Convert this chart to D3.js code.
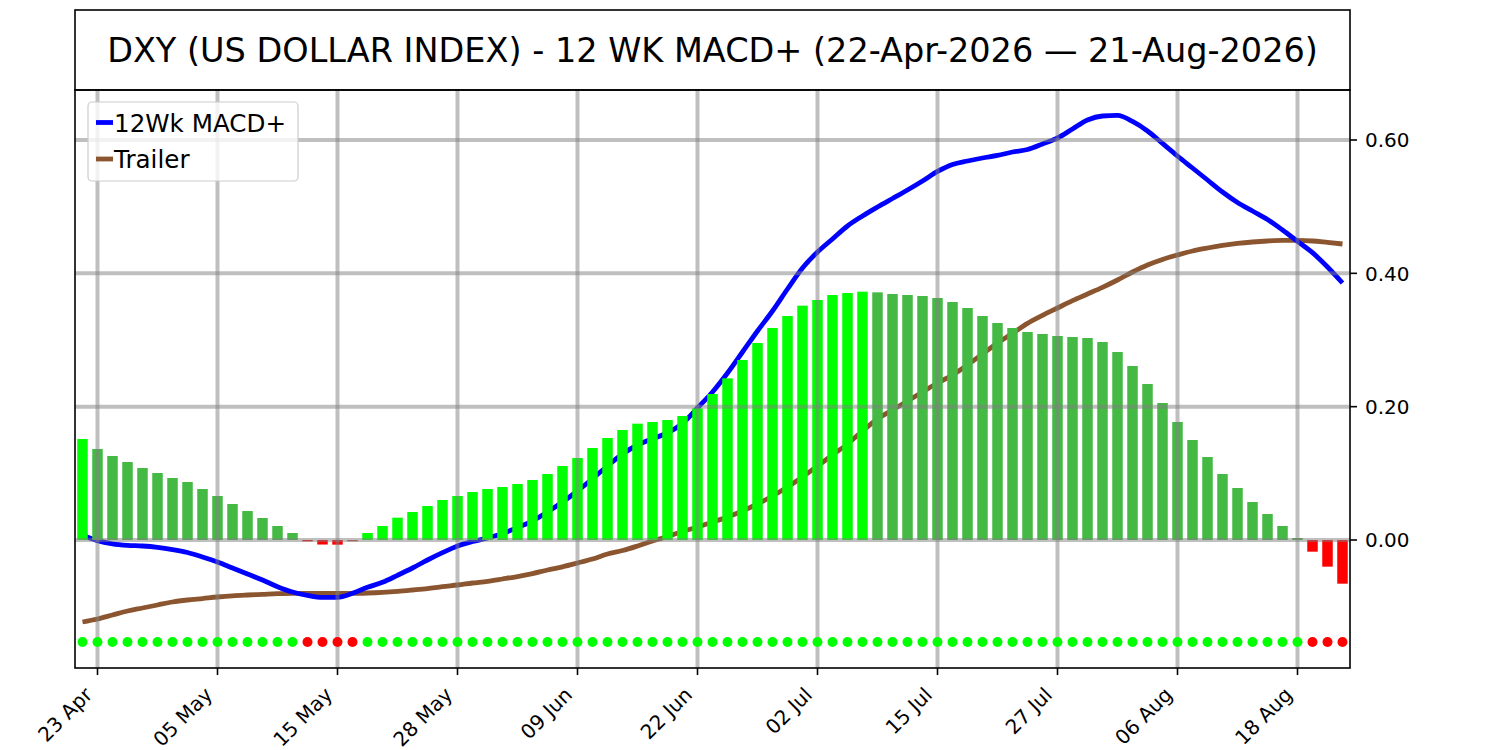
<!DOCTYPE html>
<html>
<head>
<meta charset="utf-8">
<script src="https://cdn.jsdelivr.net/npm/d3@7"></script>
<style>
  body { margin: 0; background: #fff; }
  text { font-family: 'DejaVu Sans', sans-serif; fill: #000; }
</style>
</head>
<body>
<svg id="chart" width="1500" height="750"></svg>
<script>
const titleText = 'DXY (US DOLLAR INDEX) - 12 WK MACD+ (22-Apr-2026 \u2014 21-Aug-2026)'
const seriesNames = ['12Wk MACD+', 'Trailer']
const holidays = ['2026-05-25', '2026-06-19', '2026-07-03']

// histogram, one value per trading day
const hist = [
  0.1515, 0.1365, 0.126, 0.117, 0.108, 0.1005, 0.093, 0.087, 0.0765, 0.066,
  0.054, 0.0435, 0.033, 0.021, 0.0105, -0.002, -0.0068, -0.007, -0.002, 0.0105,
  0.021, 0.0335, 0.042, 0.051, 0.060, 0.066, 0.072, 0.0765, 0.0795, 0.084,
  0.090, 0.099, 0.111, 0.123, 0.138, 0.153, 0.165, 0.1745, 0.177, 0.180,
  0.186, 0.1975, 0.219, 0.2425, 0.270, 0.2955, 0.318, 0.336, 0.3515, 0.360,
  0.3675, 0.3705, 0.3725, 0.3715, 0.369, 0.3675, 0.366, 0.363, 0.357, 0.348,
  0.336, 0.3255, 0.318, 0.312, 0.309, 0.306, 0.3045, 0.303, 0.297, 0.282,
  0.261, 0.234, 0.2055, 0.177, 0.150, 0.1245, 0.099, 0.078, 0.057, 0.039,
  0.021, 0.003, -0.0175, -0.040, -0.0655
]
const macd = [
  0.0075, -0.001, -0.0057, -0.008, -0.009, -0.011, -0.0143, -0.0188, -0.0255, -0.033,
  -0.042, -0.051, -0.060, -0.070, -0.078, -0.083, -0.086, -0.086, -0.080, -0.071,
  -0.0635, -0.053, -0.042, -0.030, -0.019, -0.009, -0.0023, 0.003, 0.0098, 0.0188,
  0.0285, 0.042, 0.057, 0.0735, 0.092, 0.111, 0.129, 0.1425, 0.152, 0.1605,
  0.1748, 0.198, 0.222, 0.2505, 0.282, 0.3135, 0.3435, 0.3765, 0.408, 0.432,
  0.4515, 0.471, 0.486, 0.4995, 0.5123, 0.525, 0.5385, 0.5528, 0.5633, 0.5685,
  0.573, 0.5768, 0.582, 0.5858, 0.594, 0.603, 0.6165, 0.630, 0.636, 0.6368,
  0.6278, 0.6135, 0.5948, 0.576, 0.558, 0.540, 0.522, 0.5063, 0.4935, 0.4808,
  0.465, 0.448, 0.431, 0.4095, 0.3855
]
const trailer = [
  -0.123, -0.1185, -0.1125, -0.1065, -0.102, -0.0975, -0.093, -0.090, -0.0878, -0.0855,
  -0.0837, -0.0825, -0.0815, -0.0805, -0.080, -0.080, -0.080, -0.080, -0.080, -0.0795,
  -0.0785, -0.077, -0.075, -0.0728, -0.0698, -0.0675, -0.0645, -0.062, -0.0585, -0.0548,
  -0.0503, -0.045, -0.0402, -0.0345, -0.0285, -0.021, -0.0158, -0.009, -0.0015, 0.0053,
  0.0128, 0.0195, 0.027, 0.0345, 0.0435, 0.054, 0.066, 0.0795, 0.0945, 0.111,
  0.1275, 0.144, 0.1635, 0.1815, 0.195, 0.2085, 0.222, 0.2355, 0.2475, 0.2625,
  0.279, 0.2955, 0.31, 0.325, 0.337, 0.348, 0.359, 0.369, 0.379, 0.39,
  0.402, 0.4125, 0.4208, 0.4275, 0.4335, 0.438, 0.4418, 0.4448, 0.447, 0.4485,
  0.4493, 0.4493, 0.4485, 0.4463, 0.444
]
const yTicks = [0, 0.2, 0.4, 0.6]
const dotLevel = -0.153

// trading days from 22 Apr to 21 Aug
const keyFmt = d3.timeFormat('%Y-%m-%d')
let dates = d3.timeDay.range(new Date(2026, 3, 22), new Date(2026, 7, 22))
  .filter(d => d.getDay() > 0 && d.getDay() < 6 && !holidays.includes(keyFmt(d)))
let tickIdx = d3.range(1, dates.length, 8)
let tickFmt = d3.timeFormat('%d %b')

const plotL = 75, plotR = 1350, plotT = 90, plotB = 668
const svg = d3.select('#chart')

let x = d3.scaleLinear().domain([-0.5, dates.length - 0.5]).range([plotL, plotR])
let y = d3.scaleLinear().domain([-0.192, 0.675]).range([plotB, plotT])

svg.append('clipPath').attr('id', 'plot-clip')
  .append('rect').attr('x', plotL).attr('y', plotT).attr('width', plotR - plotL).attr('height', plotB - plotT)

let plot = svg.append('g').attr('clip-path', 'url(#plot-clip)')

// lines sit under the bars
let lineFn = d3.line().x((d, i) => x(i)).y(d => y(d)).curve(d3.curveMonotoneX)
plot.append('path').attr('d', lineFn(trailer))
  .attr('fill', 'none').attr('stroke', '#8b5530').attr('stroke-width', 4.8)
plot.append('path').attr('d', lineFn(macd))
  .attr('fill', 'none').attr('stroke', '#0000ff').attr('stroke-width', 4.8)

function barColor(v, i) {
  let up = i === 0 || v >= hist[i - 1]
  if (v >= 0) return up ? '#00ff00' : '#44b944'
  return up ? '#d24848' : '#ff0000'
}

plot.selectAll('rect.bar').data(hist).join('rect')
  .attr('class', 'bar')
  .attr('x', (d, i) => x(i) - 5.25)
  .attr('width', 10.5)
  .attr('y', d => Math.min(y(d), y(0)))
  .attr('height', d => Math.abs(y(d) - y(0)))
  .attr('fill', barColor)

// grid drawn over the bars
plot.selectAll('line.vgrid').data(tickIdx).join('line')
  .attr('class', 'vgrid')
  .attr('x1', d => x(d)).attr('x2', d => x(d))
  .attr('y1', plotT).attr('y2', plotB)
  .attr('stroke', '#808080').attr('stroke-opacity', 0.5).attr('stroke-width', 4)
plot.selectAll('line.hgrid').data(yTicks).join('line')
  .attr('class', 'hgrid')
  .attr('x1', plotL).attr('x2', plotR)
  .attr('y1', d => y(d)).attr('y2', d => y(d))
  .attr('stroke', '#808080').attr('stroke-opacity', 0.5).attr('stroke-width', 4)

plot.selectAll('circle').data(hist).join('circle')
  .attr('cx', (d, i) => x(i))
  .attr('cy', y(dotLevel))
  .attr('r', 5)
  .attr('fill', d => d >= 0 ? '#00ff00' : '#ff0000')

// frame
svg.append('rect').attr('x', plotL).attr('y', plotT).attr('width', plotR - plotL).attr('height', plotB - plotT)
  .attr('fill', 'none').attr('stroke', '#000').attr('stroke-width', 1.6)

// right axis
let yAxis = svg.append('g')
yAxis.selectAll('line').data(yTicks).join('line')
  .attr('x1', plotR).attr('x2', plotR + 7)
  .attr('y1', d => y(d)).attr('y2', d => y(d))
  .attr('stroke', '#000').attr('stroke-width', 1.6)
yAxis.selectAll('text').data(yTicks).join('text')
  .attr('x', plotR + 15)
  .attr('y', d => y(d))
  .attr('dy', '0.36em')
  .attr('font-size', 20)
  .text(d3.format('.2f'))

// bottom axis
let xAxis = svg.append('g')
xAxis.selectAll('line').data(tickIdx).join('line')
  .attr('x1', d => x(d)).attr('x2', d => x(d))
  .attr('y1', plotB).attr('y2', plotB + 7)
  .attr('stroke', '#000').attr('stroke-width', 1.6)
xAxis.selectAll('text').data(tickIdx).join('text')
  .attr('transform', d => `translate(${x(d) - 4},${plotB + 28}) rotate(-45)`)
  .attr('text-anchor', 'end')
  .attr('font-size', 20)
  .text(d => tickFmt(dates[d]))

// title box
svg.append('rect').attr('x', plotL).attr('y', 10).attr('width', plotR - plotL).attr('height', plotT - 10)
  .attr('fill', 'none').attr('stroke', '#000').attr('stroke-width', 1.6)
svg.append('text')
  .attr('x', (plotL + plotR) / 2).attr('y', 62)
  .attr('text-anchor', 'middle')
  .attr('font-size', 33.5)
  .text(titleText)

// legend
let legend = svg.append('g')
legend.append('rect')
  .attr('x', 88).attr('y', 102).attr('width', 210).attr('height', 79).attr('rx', 4)
  .attr('fill', '#fff').attr('fill-opacity', 0.8).attr('stroke', '#cccccc').attr('stroke-width', 1.2)
let legColors = ['#0000ff', '#8b5530']
seriesNames.forEach((name, i) => {
  let ly = 122.5 + i * 36.5
  legend.append('line').attr('x1', 96).attr('x2', 113).attr('y1', ly).attr('y2', ly)
    .attr('stroke', legColors[i]).attr('stroke-width', 4.8)
  legend.append('text').attr('x', 114).attr('y', ly + 9)
    .attr('font-size', 24.6)
    .text(name)
})
</script>
</body>
</html>
